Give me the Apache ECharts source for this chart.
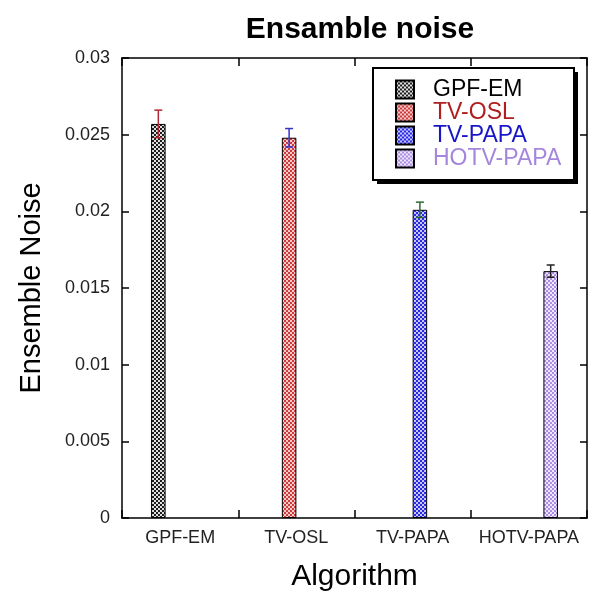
<!DOCTYPE html>
<html>
<head>
<meta charset="utf-8">
<script src="https://cdn.jsdelivr.net/npm/echarts@6/dist/echarts.min.js"></script>
<style>
  html, body { margin: 0; padding: 0; background: #fff; }
  #chart { width: 589px; height: 597px; }
</style>
</head>
<body>
<div id="chart"></div>
<script>
// Algorithms compared and their mean ensemble noise with error half-widths
const categories = ['GPF-EM', 'TV-OSL', 'TV-PAPA', 'HOTV-PAPA'];
const seriesNames = ['GPF-EM', 'TV-OSL', 'TV-PAPA', 'HOTV-PAPA'];
const noiseMean = [0.0257, 0.0248, 0.0201, 0.0161];
const noiseErr = [0.0009, 0.0006, 0.0005, 0.0004];
const yTicks = [0, 0.005, 0.01, 0.015, 0.02, 0.025, 0.03];

// Visual style per series: checker fill colours, legend text colour, error bar colour
const fillDark = ['#1e1e1e', '#cc3c3c', '#2a2ae0', '#aa8ee0'];
const fillLight = ['#e0e0e0', '#f6caca', '#c4c4ff', '#eee4fb'];
const textColors = ['#000000', '#b01e1e', '#1616c8', '#a486dc'];
const errColors = ['#b02a35', '#3434c8', '#2d6a2d', '#222222'];

function checker(dark, light) {
  const c = document.createElement('canvas');
  c.width = 4; c.height = 4;
  const g = c.getContext('2d');
  g.fillStyle = light; g.fillRect(0, 0, 4, 4);
  g.fillStyle = dark;
  g.fillRect(0, 0, 2, 2);
  g.fillRect(2, 2, 2, 2);
  return { image: c, repeat: 'repeat' };
}

const FONT = '"Liberation Sans", Arial, Helvetica, sans-serif';
const CAT_GAP = 0.5;   // fraction of category width left empty
const nSeries = seriesNames.length;

const barSeries = seriesNames.map((name, s) => ({
  name: name,
  type: 'bar',
  barGap: '0%',
  barCategoryGap: (CAT_GAP * 100) + '%',
  itemStyle: {
    color: checker(fillDark[s], fillLight[s]),
    borderColor: '#000',
    borderWidth: 1
  },
  emphasis: { disabled: true },
  data: categories.map((c, i) => (i === s ? noiseMean[i] : '-'))
}));

// Error bars drawn over each bar, offset to the bar's slot within the category group
const errorSeries = {
  type: 'custom',
  silent: true,
  z: 10,
  data: categories.map((c, i) => [i, noiseMean[i] - noiseErr[i], noiseMean[i] + noiseErr[i], i]),
  encode: { x: 0, y: [1, 2] },
  renderItem: function (params, api) {
    const cat = api.value(0);
    const s = api.value(3);
    const lo = api.coord([cat, api.value(1)]);
    const hi = api.coord([cat, api.value(2)]);
    const catW = api.size([1, 0])[0];
    const bw = catW * (1 - CAT_GAP) / nSeries;
    const x = lo[0] + (s - (nSeries - 1) / 2) * bw;
    const half = 4;
    const style = { stroke: errColors[s], lineWidth: 1.5 };
    return {
      type: 'group',
      children: [
        { type: 'line', shape: { x1: x, y1: lo[1], x2: x, y2: hi[1] }, style: style },
        { type: 'line', shape: { x1: x - half, y1: hi[1], x2: x + half, y2: hi[1] }, style: style },
        { type: 'line', shape: { x1: x - half, y1: lo[1], x2: x + half, y2: lo[1] }, style: style }
      ]
    };
  }
};

const chart = echarts.init(document.getElementById('chart'), null, { renderer: 'canvas' });

const frameLine = { show: true, onZero: false, lineStyle: { color: '#000', width: 1.5 } };
const tickStyle = { color: '#000', width: 1.5 };

// Legend frame: white box with a solid drop shadow, placed behind the legend entries
const legendBox = { x: 373, y: 68, w: 201, h: 112 };

chart.setOption({
  animation: false,
  backgroundColor: '#ffffff',
  textStyle: { fontFamily: FONT },
  title: {
    text: 'Ensamble noise',
    left: 355,
    top: 10,
    textAlign: 'center',
    textStyle: { fontFamily: FONT, fontSize: 30, fontWeight: 'bold', color: '#000' }
  },
  graphic: [
    {
      type: 'rect',
      z: 90,
      shape: { x: legendBox.x + 4, y: legendBox.y + 4, width: legendBox.w, height: legendBox.h },
      style: { fill: '#000' }
    },
    {
      type: 'rect',
      z: 91,
      shape: { x: legendBox.x, y: legendBox.y, width: legendBox.w, height: legendBox.h },
      style: { fill: '#fff', stroke: '#000', lineWidth: 2 }
    }
  ],
  legend: {
    orient: 'vertical',
    left: legendBox.x,
    top: legendBox.y,
    z: 100,
    padding: [10, 12, 10, 22],
    itemGap: 0,
    itemWidth: 18,
    itemHeight: 18,
    icon: 'rect',
    selectedMode: false,
    data: seriesNames.map((n, s) => ({
      name: n,
      textStyle: { color: textColors[s] }
    })),
    textStyle: { fontFamily: FONT, fontSize: 23, lineHeight: 23, padding: [0, 0, 0, 14] }
  },
  grid: { left: 122, right: 2, top: 58, bottom: 76, containLabel: false },
  xAxis: [
    {
      type: 'category',
      data: categories,
      position: 'bottom',
      name: 'Algorithm',
      nameLocation: 'middle',
      nameGap: 44,
      nameTextStyle: { fontFamily: FONT, fontSize: 30, color: '#000' },
      axisLine: frameLine,
      axisTick: { show: true, inside: true, interval: 0, length: 8, lineStyle: tickStyle },
      axisLabel: { fontFamily: FONT, fontSize: 18, color: '#222', margin: 11, interval: 0 },
      splitLine: { show: false }
    },
    {
      type: 'category',
      data: categories,
      position: 'top',
      axisLine: frameLine,
      axisTick: { show: true, inside: true, interval: 0, length: 8, lineStyle: tickStyle },
      axisLabel: { show: false },
      splitLine: { show: false }
    }
  ],
  yAxis: [
    {
      type: 'value',
      min: 0,
      max: 0.03,
      interval: 0.005,
      position: 'left',
      name: 'Ensemble Noise',
      nameLocation: 'middle',
      nameGap: 76,
      nameTextStyle: { fontFamily: FONT, fontSize: 29, color: '#000' },
      axisLine: frameLine,
      axisTick: { show: true, inside: true, length: 7, lineStyle: tickStyle },
      axisLabel: {
        fontFamily: FONT, fontSize: 18, color: '#222', margin: 12,
        formatter: v => String(yTicks.find(t => Math.abs(t - v) < 1e-9) ?? +v.toFixed(3))
      },
      splitLine: { show: false }
    },
    {
      type: 'value',
      min: 0,
      max: 0.03,
      interval: 0.005,
      position: 'right',
      axisLine: frameLine,
      axisTick: { show: true, inside: true, length: 7, lineStyle: tickStyle },
      axisLabel: { show: false },
      splitLine: { show: false }
    }
  ],
  series: barSeries.concat([errorSeries])
});
</script>
</body>
</html>
